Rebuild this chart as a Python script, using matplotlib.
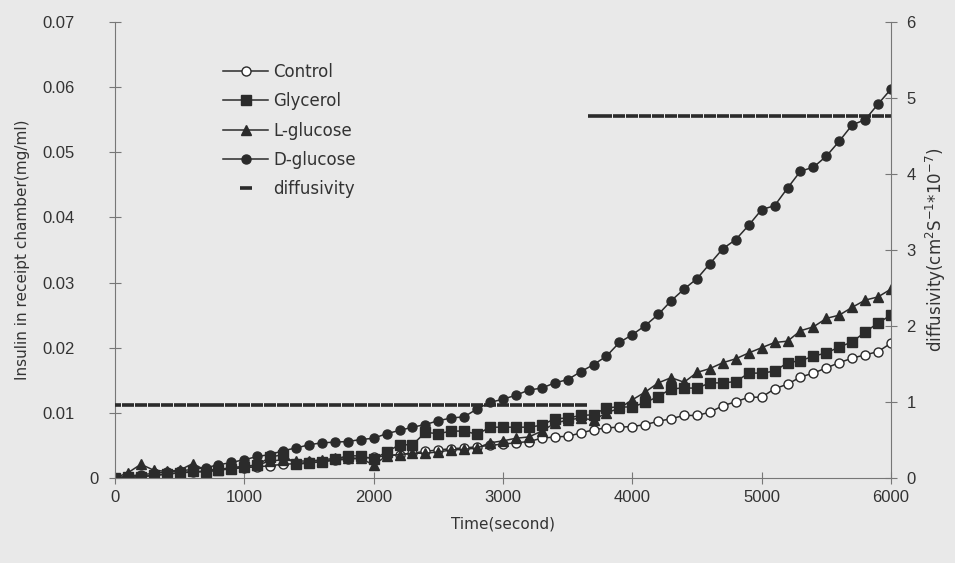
import numpy as np
import matplotlib
matplotlib.use("Agg")
import matplotlib.pyplot as plt
from matplotlib.transforms import ScaledTranslation

plt.rcParams['font.family'] = ['DejaVu Sans']

# sampling times (s), one reading every 100 s
time_s = np.arange(0, 6001, 100)

control = [0, 0.0001, 0.0002, 0.0004, 0.0006, 0.0008, 0.0009, 0.0011, 0.0013, 0.0014,
           0.0016, 0.0017, 0.0019, 0.0021, 0.0022, 0.0024, 0.0025, 0.0027, 0.0029, 0.0030,
           0.0032, 0.0034, 0.0036, 0.0038, 0.0041, 0.0043, 0.0045, 0.0046, 0.0048, 0.0050,
           0.0052, 0.0054, 0.0056, 0.0061, 0.0063, 0.0064, 0.0069, 0.0074, 0.0077, 0.0078,
           0.0079, 0.0082, 0.0087, 0.0091, 0.0096, 0.0096, 0.0101, 0.0111, 0.0117, 0.0124,
           0.0124, 0.0137, 0.0144, 0.0155, 0.0161, 0.0169, 0.0177, 0.0184, 0.0189, 0.0194,
           0.0207]
glycerol = [0, 0.0001, 0.0002, 0.0004, 0.0006, 0.0008, 0.0010, 0.0009, 0.0012, 0.0014,
            0.0017, 0.0020, 0.0032, 0.0036, 0.0021, 0.0023, 0.0025, 0.0029, 0.0034, 0.0034,
            0.0029, 0.0040, 0.0051, 0.0051, 0.0070, 0.0068, 0.0072, 0.0072, 0.0067, 0.0078,
            0.0078, 0.0078, 0.0078, 0.0081, 0.0091, 0.0092, 0.0096, 0.0097, 0.0108, 0.0109,
            0.0109, 0.0116, 0.0125, 0.0137, 0.0138, 0.0138, 0.0146, 0.0146, 0.0148, 0.0161,
            0.0161, 0.0164, 0.0177, 0.0180, 0.0187, 0.0192, 0.0201, 0.0209, 0.0224, 0.0238,
            0.0250]
l_glucose = [0, 0.0008, 0.0021, 0.0012, 0.0010, 0.0012, 0.0022, 0.0012, 0.0013, 0.0016,
             0.0018, 0.0020, 0.0026, 0.0028, 0.0026, 0.0026, 0.0028, 0.0030, 0.0031, 0.0030,
             0.0020, 0.0034, 0.0036, 0.0038, 0.0038, 0.0040, 0.0043, 0.0044, 0.0046, 0.0054,
             0.0057, 0.0061, 0.0063, 0.0072, 0.0084, 0.0089, 0.0092, 0.0089, 0.0100, 0.0107,
             0.0120, 0.0132, 0.0146, 0.0154, 0.0147, 0.0162, 0.0168, 0.0177, 0.0183, 0.0192,
             0.0200, 0.0208, 0.0210, 0.0226, 0.0232, 0.0245, 0.0250, 0.0262, 0.0273, 0.0278,
             0.0290]
d_glucose = [0, 0.0003, 0.0005, 0.0007, 0.0009, 0.0011, 0.0013, 0.0016, 0.0020, 0.0024,
             0.0028, 0.0033, 0.0036, 0.0042, 0.0046, 0.0051, 0.0054, 0.0055, 0.0056, 0.0059,
             0.0061, 0.0068, 0.0073, 0.0078, 0.0082, 0.0088, 0.0092, 0.0094, 0.0106, 0.0116,
             0.0121, 0.0127, 0.0135, 0.0138, 0.0146, 0.0151, 0.0163, 0.0174, 0.0187, 0.0208,
             0.0220, 0.0234, 0.0251, 0.0272, 0.0290, 0.0306, 0.0329, 0.0352, 0.0366, 0.0388,
             0.0412, 0.0418, 0.0445, 0.0471, 0.0477, 0.0494, 0.0517, 0.0542, 0.0550, 0.0574,
             0.0597]

# diffusivity (cm^2 s^-1 * 1e-7): two phases, before and after 3700 s
diff_t1 = np.arange(0, 3601, 100)
diff_t2 = np.arange(3700, 6001, 100)
diff_phase1 = 0.96
diff_phase2 = 4.76

ink = "#2b2b2b"
txt = "#333333"
bg = "#e9e9e9"
tick_font = dict(family="Liberation Sans", size=12)

fig = plt.figure(figsize=(9.55, 5.63), dpi=100, facecolor=bg)
ax = fig.add_axes([0.1204, 0.151, 0.8126, 0.81])
ax.set_facecolor(bg)
ax2 = ax.twinx()

style = dict(color=ink, lw=1.1, ms=6.5, markeredgewidth=1.0)
h1, = ax.plot(time_s, control, marker="o", mfc="white", mec=ink, label="Control", **style)
h2, = ax.plot(time_s, glycerol, marker="s", mfc=ink, mec=ink, label="Glycerol", **style)
h3, = ax.plot(time_s, l_glucose, marker="^", mfc=ink, mec=ink, label="L-glucose", **style)
h4, = ax.plot(time_s, d_glucose, marker="o", mfc=ink, mec=ink, label="D-glucose", **style)

h5, = ax2.plot(diff_t1, np.full(diff_t1.size, diff_phase1), ls="none", marker="_",
               ms=8.5, mew=2.6, color=ink, label="diffusivity")
ax2.plot(diff_t2, np.full(diff_t2.size, diff_phase2), ls="none", marker="_",
         ms=8.5, mew=2.6, color=ink)

ax.set_xlim(0, 6000)
ax.set_ylim(0, 0.07)
ax2.set_ylim(0, 6)
ax.set_xticks(np.arange(0, 6001, 1000))
ax.set_yticks(np.arange(0, 0.071, 0.01))
ax.set_yticklabels(["0"] + [f"{v:.2f}" for v in np.arange(0.01, 0.071, 0.01)])
ax2.set_yticks(np.arange(0, 7, 1))

for a in (ax, ax2):
    a.spines["top"].set_visible(False)
    for s in a.spines.values():
        s.set_color("#777777")
        s.set_linewidth(0.8)
ax.spines["right"].set_visible(False)
ax2.spines["left"].set_visible(False)
ax2.spines["bottom"].set_visible(False)

ax.tick_params(axis="both", direction="inout", length=8, width=0.8, color="#777777",
               labelcolor=txt, pad=5)
ax.tick_params(axis="y", pad=25)
ax2.tick_params(axis="y", direction="inout", length=8, width=0.8, color="#777777",
                labelcolor=txt, pad=7)
for lab in ax.get_xticklabels() + ax.get_yticklabels() + ax2.get_yticklabels():
    lab.set_fontproperties(tick_font)

# the zero label sits closer to the axis than the decimal ones
zero_lab = ax.get_yticklabels()[0]
zero_lab.set_transform(zero_lab.get_transform()
                       + ScaledTranslation(0.24, 0, fig.dpi_scale_trans))

ax.set_xlabel("Time(second)", fontsize=11, color=txt, labelpad=8)
ax.set_ylabel("Insulin in receipt chamber(mg/ml)", fontsize=11, color=txt, labelpad=9)
ax2.set_ylabel(r"diffusivity(cm$^2$S$^{-1}$*10$^{-7}$)", fontsize=12, color=txt,
               labelpad=6)

fig.legend(handles=[h1, h2, h3, h4, h5], loc="upper left",
           bbox_to_anchor=(0.218, 0.915), frameon=False, fontsize=12,
           handlelength=2.7, handletextpad=0.3, labelspacing=0.68, labelcolor=txt)

fig.savefig("out.png", dpi=100, facecolor=bg)
